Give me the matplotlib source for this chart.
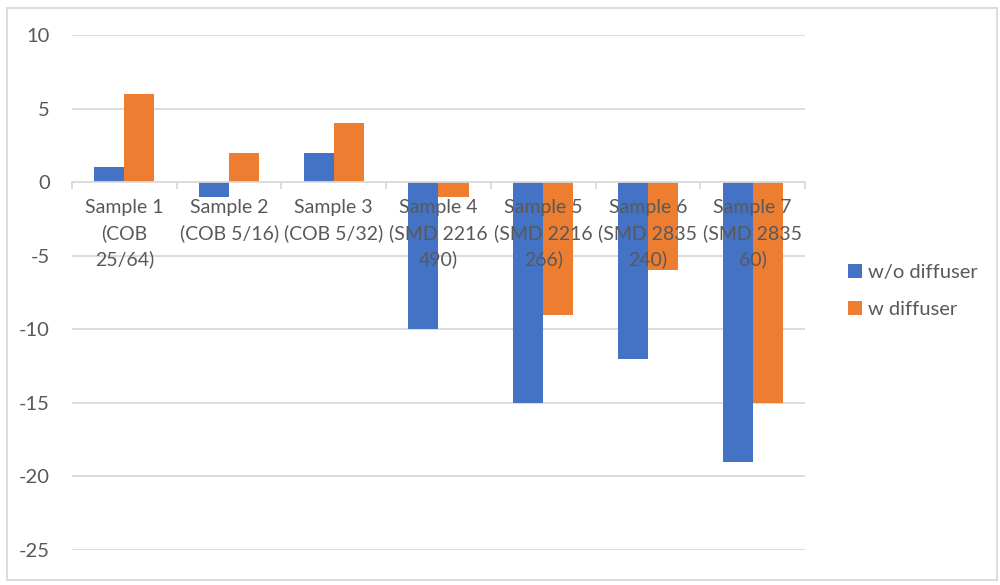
import numpy as np
import matplotlib
matplotlib.use('Agg')
import matplotlib.pyplot as plt
from matplotlib.patches import Rectangle

plt.rcParams['font.family'] = ['Lato', 'DejaVu Sans']
plt.rcParams['axes.unicode_minus'] = False

# Data
samples = ['Sample 1\n(COB\n25/64)', 'Sample 2\n(COB 5/16)', 'Sample 3\n(COB 5/32)',
           'Sample 4\n(SMD 2216\n490)', 'Sample 5\n(SMD 2216\n266)',
           'Sample 6\n(SMD 2835\n240)', 'Sample 7\n(SMD 2835\n60)']
without_diffuser = [1, -1, 2, -10, -15, -12, -19]
with_diffuser = [6, 2, 4, -1, -9, -6, -15]
y_ticks = [10, 5, 0, -5, -10, -15, -20, -25]

text_col = '#595959'
grid_col = '#d9d9d9'

fig = plt.figure(figsize=(10, 5.85), dpi=100)
ax = fig.add_axes([0.072, 0.0598, 0.733, 0.8803])

x = np.arange(len(samples))
w = 0.287
ax.bar(x - w / 2, without_diffuser, w, color='#4472C4', label='w/o diffuser', zorder=1)
ax.bar(x + w / 2, with_diffuser, w, color='#ED7D31', label='w diffuser', zorder=1)

# gridlines behind the bars
for t in y_ticks:
    if t != 0:
        ax.axhline(t, color=grid_col, lw=1.3, zorder=0)

ax.set_xlim(-0.5, len(samples) - 0.5)
ax.set_ylim(-25, 10)
ax.set_yticks(y_ticks)

for s in ['top', 'right', 'left']:
    ax.spines[s].set_visible(False)
ax.spines['bottom'].set_position(('data', 0))
ax.spines['bottom'].set_color(grid_col)
ax.spines['bottom'].set_linewidth(1.3)

ax.set_xticks(x)
ax.set_xticklabels(samples, fontsize=14, color=text_col, linespacing=1.55)
ax.set_xticks(np.arange(-0.5, len(samples)), minor=True)
ax.tick_params(axis='x', which='major', length=0, pad=12)
ax.tick_params(axis='x', which='minor', length=5, color=grid_col, width=1.3)
ax.tick_params(axis='y', length=0, pad=16, labelsize=14.5, labelcolor=text_col)

ax.legend(loc='center left', bbox_to_anchor=(0.848, 1 - 291 / 585),
          bbox_transform=fig.transFigure, frameon=False, fontsize=14.5,
          handlelength=0.7, handleheight=0.7, handletextpad=0.3,
          labelspacing=1.0, borderpad=0, borderaxespad=0)
for txt in ax.get_legend().get_texts():
    txt.set_color(text_col)

# light frame around the whole chart
fig.patches.append(Rectangle((0.007, 0.009), 0.99, 0.977, transform=fig.transFigure,
                             fill=False, edgecolor=grid_col, lw=1.3))

fig.savefig('out.png', dpi=100)
